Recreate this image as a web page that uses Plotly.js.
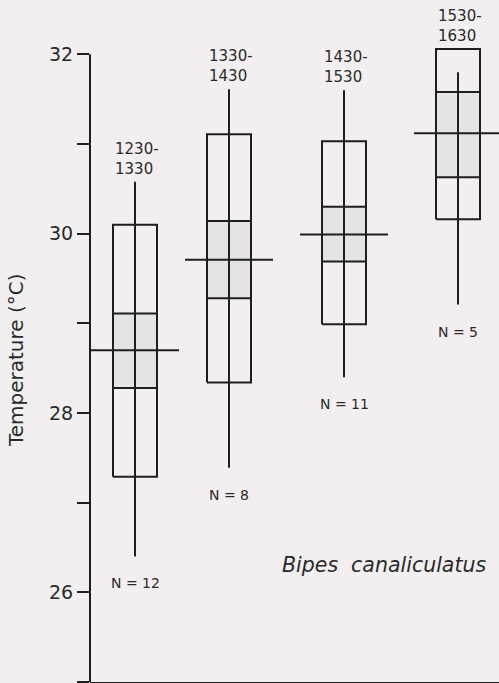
<!DOCTYPE html>
<html>
<head>
<meta charset="utf-8">
<script src="https://cdn.plot.ly/plotly-3.0.1.min.js"></script>
<style>
  html, body { margin: 0; padding: 0; background: #f3eff0; }
  #chart { width: 499px; height: 683px; }
</style>
</head>
<body>
<div id="chart"></div>
<script>
// ---- data ----
const periods   = ['1230-1330', '1330-1430', '1430-1530', '1530-1630'];
const nObs      = [12, 8, 11, 5];
const tMin      = [26.40, 27.39, 28.40, 29.21];
const tMax      = [30.58, 31.61, 31.60, 31.80];
const tMean     = [28.70, 29.71, 29.99, 31.12];
const seLow     = [28.28, 29.28, 29.69, 30.63];
const seHigh    = [29.11, 30.14, 30.30, 31.58];
const sdLow     = [27.29, 28.34, 28.99, 30.16];
const sdHigh    = [30.10, 31.11, 31.03, 32.06];
const yTickVals = [25, 26, 27, 28, 29, 30, 31, 32];
const yTickText = ['', '26', '', '28', '', '30', '', '32'];
const species   = 'Bipes canaliculatus';

// ---- layout helpers ----
const groupX = [0.45, 1.39, 2.54, 3.68];   // horizontal placement of each group
const boxHalf = 0.22;
const meanHalf = 0.44;
const ink = '#1f1f1f';
const shade = '#e5e3e4';
const bg = '#f3eff0';
const font = 'DejaVu Sans, sans-serif';

function rectTrace(lo, hi, fill) {
  const xs = [], ys = [];
  groupX.forEach((c, i) => {
    xs.push(c - boxHalf, c + boxHalf, c + boxHalf, c - boxHalf, c - boxHalf, null);
    ys.push(lo[i], lo[i], hi[i], hi[i], lo[i], null);
  });
  return {
    type: 'scatter', mode: 'lines', x: xs, y: ys,
    fill: fill ? 'toself' : 'none', fillcolor: shade,
    line: {color: ink, width: 2}, hoverinfo: 'skip', showlegend: false
  };
}

const rangeX = [], rangeY = [], meanX = [], meanY = [];
groupX.forEach((c, i) => {
  rangeX.push(c, c, null); rangeY.push(tMin[i], tMax[i], null);
  meanX.push(c - meanHalf, c + meanHalf, null); meanY.push(tMean[i], tMean[i], null);
});

const traces = [
  rectTrace(seLow, seHigh, true),
  rectTrace(sdLow, sdHigh, false),
  {type: 'scatter', mode: 'lines', x: rangeX, y: rangeY,
   line: {color: ink, width: 2}, hoverinfo: 'skip', showlegend: false},
  {type: 'scatter', mode: 'lines', x: meanX, y: meanY,
   line: {color: ink, width: 2}, hoverinfo: 'skip', showlegend: false}
];

const annotations = [];
groupX.forEach((c, i) => {
  const parts = periods[i].split('-');
  const top = Math.max(tMax[i], sdHigh[i]);
  annotations.push({x: c, y: top, xref: 'x', yref: 'y', text: parts[0] + '-<br>' + parts[1],
    showarrow: false, xanchor: 'left', yanchor: 'middle', align: 'left',
    xshift: -22, yshift: 23,
    font: {family: font, size: 15, color: '#2a2a2a'}});
  annotations.push({x: c, y: tMin[i], xref: 'x', yref: 'y', text: 'N = ' + nObs[i],
    showarrow: false, xanchor: 'center', yanchor: 'middle', yshift: -27,
    font: {family: font, size: 14, color: '#2a2a2a'}});
});
annotations.push({x: 0.718, y: 0.171, xref: 'paper', yref: 'paper',
  text: species.replace(' ', '\u00a0 '), showarrow: false, xanchor: 'center', yanchor: 'middle',
  font: {family: font, size: 20.5, color: '#2a2a2a', style: 'italic'}});
annotations.push({x: -0.181, y: 0.472, xref: 'paper', yref: 'paper',
  text: 'Temperature (°C)', textangle: -90, showarrow: false,
  xanchor: 'center', yanchor: 'middle',
  font: {family: font, size: 20, color: '#2a2a2a'}});

const layout = {
  width: 499, height: 683,
  margin: {l: 90, r: 0, t: 0, b: 1, pad: 0},
  paper_bgcolor: bg, plot_bgcolor: bg,
  showlegend: false,
  xaxis: {range: [0, 4.09], showgrid: false, zeroline: false, showticklabels: false,
          ticks: '', showline: true, linecolor: ink, linewidth: 2, fixedrange: true},
  yaxis: {range: [25, 32.606], showgrid: false, zeroline: false, showline: false,
          tickmode: 'array', tickvals: yTickVals, ticktext: yTickText,
          ticks: 'outside', ticklen: 12, tickwidth: 2, tickcolor: ink,
          tickfont: {family: font, size: 19, color: '#2a2a2a'}, fixedrange: true},
  shapes: [{type: 'line', xref: 'paper', yref: 'y', x0: 0, x1: 0, y0: 25, y1: 32,
            line: {color: ink, width: 2}}],
  annotations: annotations
};

Plotly.newPlot('chart', traces, layout, {displayModeBar: false, staticPlot: true});
</script>
</body>
</html>
